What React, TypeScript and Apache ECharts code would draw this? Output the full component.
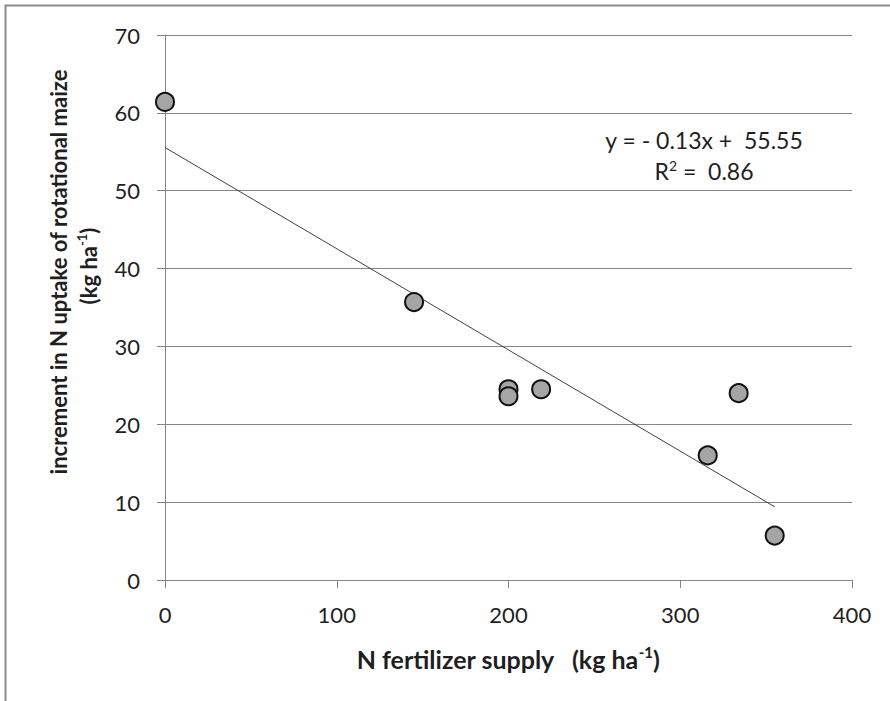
import React, { useEffect, useRef } from "react";
import * as echarts from "echarts";

const nSupply = [0, 145, 200, 200, 219, 316, 334, 355];
const nUptakeIncrement = [61.4, 35.7, 24.5, 23.6, 24.5, 16.0, 24.0, 5.7];
const trendX = [0, 355];
const trendY = [55.55, 9.4];
const xTicks = [0, 100, 200, 300, 400];
const yTicks = [0, 10, 20, 30, 40, 50, 60, 70];
const equationLine = "y = - 0.13x +  55.55";

const FONT = "Lato, 'Open Sans', sans-serif";
const TXT = "#1f1f1f";
const AX = "#868686";

export default function App() {
  const ref = useRef<HTMLDivElement>(null);
  useEffect(() => {
    if (!ref.current) return;
    const chart = echarts.init(ref.current, undefined, { renderer: "svg" });
    const sup = { fontSize: 13, verticalAlign: "top", lineHeight: 26, fontFamily: FONT, fontWeight: "bold", fill: TXT };
    const bold = { fontSize: 22, fontFamily: FONT, fontWeight: "bold", fill: TXT, lineHeight: 26 };
    const supX = { fontSize: 15, verticalAlign: "top", lineHeight: 30, fontFamily: FONT, fontWeight: "bold", fill: TXT };
    const boldX = { fontSize: 25, fontFamily: FONT, fontWeight: "bold", fill: TXT, lineHeight: 30 };
    chart.setOption({
      animation: false,
      backgroundColor: "#ffffff",
      textStyle: { fontFamily: FONT },
      grid: { left: 165, right: 38, top: 35, bottom: 121, containLabel: false },
      xAxis: {
        type: "value",
        min: xTicks[0],
        max: xTicks[xTicks.length - 1],
        interval: 100,
        axisLine: { show: true, lineStyle: { color: AX, width: 1 } },
        axisTick: { show: true, inside: false, length: 8, lineStyle: { color: AX } },
        splitLine: { show: false },
        axisLabel: { color: TXT, fontSize: 22, fontFamily: FONT, margin: 23 },
      },
      yAxis: {
        type: "value",
        min: yTicks[0],
        max: yTicks[yTicks.length - 1],
        interval: 10,
        axisLine: { show: true, lineStyle: { color: AX, width: 1 } },
        axisTick: { show: true, inside: false, length: 8, lineStyle: { color: AX } },
        splitLine: { show: true, lineStyle: { color: AX, width: 1 } },
        axisLabel: { color: TXT, fontSize: 22, fontFamily: FONT, margin: 25 },
      },
      series: [
        {
          type: "line",
          data: trendX.map((x, i) => [x, trendY[i]]),
          showSymbol: false,
          symbol: "none",
          lineStyle: { color: "#404040", width: 1 },
          z: 2,
          silent: true,
        },
        {
          type: "scatter",
          data: nSupply.map((x, i) => [x, nUptakeIncrement[i]]),
          symbol: "circle",
          symbolSize: 18,
          itemStyle: { color: "#a5a5a5", borderColor: "#111111", borderWidth: 2, opacity: 1 },
          z: 3,
        },
      ],
      graphic: [
        {
          type: "rect",
          shape: { x: 5.5, y: 5.5, width: 1000, height: 1000 },
          style: { fill: "none", stroke: "#8c8c8c", lineWidth: 2 },
          silent: true,
        },
        {
          type: "text",
          x: 704,
          y: 140,
          style: { text: equationLine, fontSize: 23, fontFamily: FONT, fill: TXT, align: "center", verticalAlign: "middle" },
        },
        {
          type: "text",
          x: 704,
          y: 171,
          style: {
            text: "{n|R}{s|2}{n| =  0.86}",
            align: "center",
            verticalAlign: "middle",
            rich: {
              n: { fontSize: 23, fontFamily: FONT, fill: TXT, lineHeight: 26 },
              s: { fontSize: 14, fontFamily: FONT, fill: TXT, verticalAlign: "top", lineHeight: 26 },
            },
          },
        },
        {
          type: "text",
          x: 508,
          y: 659,
          style: {
            text: "{b|N fertilizer supply   (kg ha}{s|-1}{b|)}",
            align: "center",
            verticalAlign: "middle",
            rich: { b: boldX, s: supX },
          },
        },
        {
          type: "text",
          x: 58,
          y: 272,
          rotation: Math.PI / 2,
          style: {
            text: "increment in N uptake of rotational maize",
            fontSize: 22,
            fontFamily: FONT,
            fontWeight: "bold",
            fill: TXT,
            align: "center",
            verticalAlign: "middle",
          },
        },
        {
          type: "text",
          x: 88,
          y: 266,
          rotation: Math.PI / 2,
          style: {
            text: "{b|(kg ha}{s|-1}{b|)}",
            align: "center",
            verticalAlign: "middle",
            rich: { b: bold, s: sup },
          },
        },
      ],
    });
    return () => chart.dispose();
  }, []);
  return (
    <div
      ref={ref}
      style={{ position: "absolute", left: 0, top: 0, width: 890, height: 701, background: "#fff" }}
    />
  );
}
